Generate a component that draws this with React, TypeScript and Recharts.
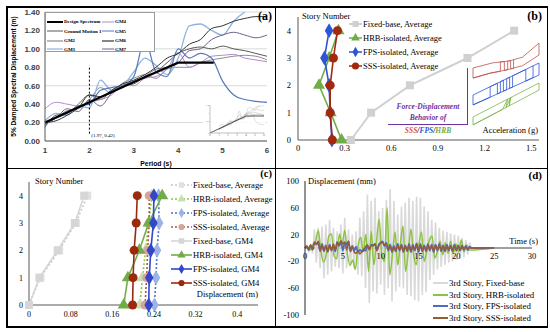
import React from 'react';
import {
  LineChart, Line, XAxis, YAxis, CartesianGrid, ReferenceLine, ReferenceDot,
  ScatterChart, Scatter, ZAxis, Symbols,
} from 'recharts';

const SANS = 'Liberation Sans, Arial, sans-serif';
const SERIF = 'Liberation Serif, Times New Roman, serif';

// ---------- (a) 5% damped spectral displacement ----------
const periods = [1, 1.25, 1.5, 1.75, 2, 2.25, 2.5, 2.75, 3, 3.25, 3.5, 3.75, 4, 4.25, 4.5, 4.75, 5, 5.25, 5.5, 5.75, 6];
const designPeriods = [1, 2, 3, 4, 4.8];
const designSd = [0.2, 0.42, 0.64, 0.85, 0.85];
const gm1 = [0.15, 0.28, 0.30, 0.40, 0.50, 0.45, 0.55, 0.60, 0.62, 0.70, 0.75, 0.85, 0.95, 1.00, 1.02, 1.00, 1.03, 1.00, 0.98, 0.95, 0.92];
const gm2 = [0.20, 0.25, 0.33, 0.35, 0.45, 0.58, 0.52, 0.63, 0.68, 0.72, 0.68, 0.78, 0.80, 0.80, 0.85, 0.88, 0.90, 0.92, 0.93, 0.92, 0.88];
const gm3 = [0.22, 0.30, 0.28, 0.38, 0.36, 0.66, 0.55, 0.60, 0.75, 0.90, 0.82, 0.72, 0.90, 1.25, 1.27, 1.20, 1.15, 1.30, 1.40, 1.46, 1.50];
const gm4 = [0.35, 0.42, 0.40, 0.38, 0.42, 0.45, 0.50, 0.62, 0.60, 0.68, 0.70, 0.78, 0.96, 0.80, 0.85, 0.92, 0.93, 0.94, 0.90, 0.88, 0.86];
const gm5 = [0.18, 0.25, 0.30, 0.38, 0.40, 0.55, 0.58, 0.60, 0.70, 1.10, 0.75, 0.70, 1.00, 0.90, 0.95, 0.90, 0.65, 0.50, 0.45, 0.43, 0.42];
const gm6 = [0.20, 0.22, 0.28, 0.36, 0.50, 0.48, 0.55, 0.62, 0.66, 0.72, 0.80, 0.90, 0.95, 1.05, 1.10, 1.22, 1.25, 1.30, 1.33, 1.35, 1.35];
const gm7 = [0.18, 0.25, 0.35, 0.32, 0.45, 0.38, 0.52, 0.60, 0.64, 0.70, 0.78, 0.80, 0.85, 0.98, 1.00, 1.10, 1.15, 1.18, 1.15, 1.12, 1.15];
const periodTicks = [1, 2, 3, 4, 5, 6];
const sdTicks = [0, 0.2, 0.4, 0.6, 0.8, 1, 1.2, 1.4];
const insetPeriods = [0, 4, 6];
const insetDesign = [0, 0.85, 0.85];
const insetTicks = [0, 1, 2, 3, 4, 5, 6];

// ---------- (b) story acceleration ----------
const stories = [0, 1, 2, 3, 4];
const storyTicks = [0, 1, 2, 3, 4];
const accTicks = [0, 0.3, 0.6, 0.9, 1.2, 1.5];
const fixedAcc = [0.34, 0.47, 0.72, 1.09, 1.39];
const hrbAcc = [0.28, 0.21, 0.135, 0.2, 0.26];
const fpsAcc = [0.218, 0.207, 0.2, 0.17, 0.2];
const sssAcc = [0.221, 0.207, 0.207, 0.228, 0.254];
// force-displacement loops (displacement, force), normalised
const sssLoop = [[-1, -0.95], [-0.5, -0.7], [0, -0.53], [0.5, -0.3], [1, 0.26], [1, 0.89], [0.5, 0.15], [0.1, -0.05], [-0.4, -0.15], [-1, -0.42], [-1, -0.95],
  [-0.5, -0.7], [-0.17, -0.59], [-0.17, -0.1], [-0.05, -0.08], [-0.05, -0.55], [0.05, -0.51], [0.05, -0.06], [0.14, -0.03], [0.14, -0.47], [0.23, -0.44], [0.23, 0.02]];
const fpsLoop = [[-1, -0.95], [1, 0.44], [1, 1.0], [-1, -0.49], [-1, -0.95], [-0.48, -0.59], [-0.48, -0.1], [-0.26, 0.06], [-0.26, -0.44], [-0.17, -0.37], [-0.17, 0.13],
  [-0.08, 0.2], [-0.08, -0.31], [0.02, -0.24], [0.02, 0.27], [0.11, 0.34], [0.11, -0.18], [0.2, -0.12], [0.2, 0.4], [0.6, 0.7], [0.6, 0.16], [0.82, 0.32], [0.82, 0.87]];
const hrbLoop = [[-1, -0.95], [1, 0.67], [1, 1.0], [-1, -0.58], [-1, -0.95], [-0.1, -0.22], [0.05, 0.25], [0, -0.14], [0.15, 0.33], [0.1, -0.06], [0.1, 0.29]];

// ---------- (c) story displacement ----------
const dispTicksC = [0, 0.08, 0.16, 0.24, 0.32, 0.4];
const fixedAvgDisp = [0, 0.022, 0.058, 0.09, 0.112];
const hrbAvgDisp = [0.213, 0.218, 0.224, 0.23, 0.236];
const fpsAvgDisp = [0.241, 0.244, 0.246, 0.25, 0.249];
const sssAvgDisp = [0.223, 0.226, 0.228, 0.231, 0.231];
const fixedGm4Disp = [0, 0.02, 0.055, 0.088, 0.106];
const hrbGm4Disp = [0.182, 0.19, 0.212, 0.23, 0.256];
const fpsGm4Disp = [0.23, 0.231, 0.234, 0.239, 0.24];
const sssGm4Disp = [0.199, 0.2, 0.202, 0.206, 0.208];

// ---------- (d) 3rd story displacement history (mm) ----------
const RECORD_END = 25;
const dtFine = 0.25;
const dtHrb = 0.35;
const timeTicks = [0, 5, 10, 15, 20, 25, 30];
const mmTicks = [-100, -80, -60, -40, -20, 0, 20, 40, 60, 80, 100];
const fixedHist = [
  0, 4, -5, 6, -8, 28, -22, 30, -30, 32, -45, 35, -40, 42, -35, 30, -28, 25, -30, 35, -38, 45, -30, 28,
  -25, 20, -30, 25, -40, 45, -42, 55, -60, 80, -82, 70, -65, 75, -68, 55, -55, 60, -70, 72, -60, 88, -80, 70,
  -65, 50, -58, 62, -60, 68, -70, 75, -72, 70, -78, 77, -80, 75, -70, 62, -66, 55, -48, 42, -40, 38, -32, 30,
  -28, 26, -25, 24, -22, 22, -20, 20, -18, 18, -16, 15, -14, 12, -10, 8, 0,
];
const hrbHist = [
  0, 2, -3, 5, 10, 26, -5, -21, -10, 18, 21, -12, -16, 21, 5, 26, -8, -26, -18, -32, 2, 16, -5, 20, -35, 25,
  -25, 10, 43, -10, -20, 60, -40, -10, 24, -25, 5, 33, -35, -5, 28, -10, -25, 5, 24, -20, -5, 12, 18, -15,
  -5, 10, -10, 8, -8, 10, -8, 6, -6, 12, -6, 5, -3,
];
const fpsHist = [
  0, 2, -3, 4, -2, 8, 5, 9, -4, 6, -5, 4, -6, 5, -3, 4, -5, 9, 3, 10, -4, 8, 6, 10, -5, 3, -4, 2, -6, -3, -5, -2,
  -4, 3, -2, 5, 4, 6, -3, 5, 8, 10, 3, 8, -4, 5, -6, 3, -5, 6, -4, 5, -6, 4, -5, 6, -6, 5, -4, 7, -6, 6, -5, 4,
  -5, 6, -4, 5, -6, 5, -4, 6, -5, 4, -5, 5, -4, 4, -5, 5, -4, 4, -4, 4, -3, 3, -3, 2, 0,
];
const sssHist = [
  0, 3, -2, 5, -3, 9, 6, 10, -5, 5, -4, 3, -5, 4, -4, 6, -3, 8, 4, 11, 6, 9, -3, 10, -4, 2, -6, -8, -5, -9, -6, -4,
  2, 5, -3, 4, 3, 6, -4, 3, 7, 9, 4, 6, -3, 4, -5, 2, -4, 5, -3, 4, -5, 3, -4, 5, -5, 4, -3, 6, -5, 4, -4, 3,
  -4, 5, -3, 4, -5, 4, -3, 5, -4, 3, -4, 4, -3, 3, -4, 4, -3, 3, -3, 3, -2, 2, -2, 1, 0,
];

type Pt = { x: number; y: number };
const zip = (xs: number[], ys: number[]): Pt[] => xs.map((x, i) => ({ x, y: ys[i] }));
const pairs = (arr: number[][]): Pt[] => arr.map(([x, y]) => ({ x, y }));
const sampled = (vals: number[], dt: number): Pt[] => [
  ...vals.map((v, i) => ({ x: Math.round(i * dt * 100) / 100, y: v })),
  { x: RECORD_END, y: 0 },
];

const T = ({ x, y, size, anchor = 'start', bold, italic, color = '#000', family = SERIF, children }: any) => (
  <div
    style={{
      position: 'absolute', left: x, top: y, fontSize: size, lineHeight: 1, fontFamily: family,
      fontWeight: bold ? 700 : 400, fontStyle: italic ? 'italic' : 'normal', color, whiteSpace: 'nowrap',
      transform: anchor === 'end' ? 'translateX(-100%)' : anchor === 'middle' ? 'translateX(-50%)' : undefined,
    }}
  >
    {children}
  </div>
);

const Rule = ({ x, y, w, h, color = '#000' }: any) => (
  <div style={{ position: 'absolute', left: x, top: y, width: w, height: h, background: color }} />
);

const LegendRow = ({ x, y, w, color, dash, shape, fill, label, size, lw = 1.5, ms = 36, family = SERIF, bold }: any) => (
  <div style={{ position: 'absolute', left: x, top: y - 6, height: 12, display: 'flex', alignItems: 'center', whiteSpace: 'nowrap' }}>
    <svg width={w} height={12} style={{ overflow: 'visible' }}>
      <line x1={0} y1={6} x2={w} y2={6} stroke={color} strokeWidth={lw} strokeDasharray={dash} />
      {shape && <Symbols cx={w / 2} cy={6} type={shape} size={ms} fill={fill} />}
    </svg>
    <span style={{ fontFamily: family, fontSize: size, marginLeft: 1, fontWeight: bold ? 700 : 400 }}>{label}</span>
  </div>
);

const gmSeries = [
  { name: 'GM1', data: gm1, color: '#595959', w: 1 },
  { name: 'GM2', data: gm2, color: '#8c8c8c', w: 1 },
  { name: 'GM3', data: gm3, color: '#8db3e2', w: 1.3 },
  { name: 'GM4', data: gm4, color: '#b38acb', w: 1 },
  { name: 'GM5', data: gm5, color: '#5579b8', w: 1.2 },
  { name: 'GM6', data: gm6, color: '#333333', w: 1 },
  { name: 'GM7', data: gm7, color: '#76608a', w: 1 },
];

const axisTickA = { fontSize: 8, fill: '#404040', fontFamily: SANS, fontWeight: 700 };
const axisTickS = { fontSize: 8.5, fill: '#000', fontFamily: SERIF };

function PanelA() {
  return (
    <>
      <div style={{ position: 'absolute', left: 0, top: 0 }}>
        <LineChart width={275} height={168} margin={{ top: 12, right: 8, bottom: 0, left: 15 }}>
          <CartesianGrid vertical={false} stroke="#d9d9d9" />
          <XAxis type="number" dataKey="x" domain={[1, 6]} ticks={periodTicks} height={27} axisLine={{ stroke: '#595959' }}
            tickLine={false} tickSize={0} tickMargin={6} tick={axisTickA}
            label={{ value: 'Period (s)', position: 'insideBottom', offset: 2, style: { fontSize: 6.8, fontWeight: 700, fontFamily: SANS, fill: '#000' } }} />
          <YAxis type="number" domain={[0, 1.4]} ticks={sdTicks} width={30} allowDataOverflow axisLine={{ stroke: '#595959' }}
            tickLine={false} tickSize={0} tickMargin={5} tick={axisTickA} tickFormatter={(v: number) => v.toFixed(2)}
            label={{ value: '5% Damped Spectral Displacement (m)', angle: -90, position: 'insideLeft', offset: -1,
              style: { textAnchor: 'middle', fontSize: 6.5, fontWeight: 700, fontFamily: SANS, fill: '#000' } }} />
          {gmSeries.map((s) => (
            <Line key={s.name} data={zip(periods, s.data)} dataKey="y" type="monotone" stroke={s.color} strokeWidth={s.w} dot={false} isAnimationActive={false} />
          ))}
          <Line data={zip(designPeriods, designSd)} dataKey="y" type="linear" stroke="#000" strokeWidth={2.2} dot={false} isAnimationActive={false} />
          <ReferenceLine segment={[{ x: 2, y: 0.08 }, { x: 2, y: 0.82 }]} stroke="#000" strokeDasharray="2 2" />
          <ReferenceDot x={2.02} y={0.06} r={0} fill="none" stroke="none"
            label={{ value: '(1.97, 0.42)', position: 'right', offset: 1, style: { fontSize: 5, fontFamily: SERIF, fill: '#000' } }} />
        </LineChart>
      </div>
      <div style={{ position: 'absolute', left: 203, top: 103, background: 'rgba(255,255,255,0.85)' }}>
        <LineChart width={63} height={36} margin={{ top: 2, right: 2, bottom: 0, left: 0 }}>
          <XAxis type="number" dataKey="x" domain={[0, 6]} ticks={insetTicks} height={6} axisLine={{ stroke: '#808080', strokeWidth: 0.5 }}
            tickLine={false} tickSize={0} tickMargin={1} tick={{ fontSize: 3, fill: '#666' }} />
          <YAxis type="number" domain={[0, 1.4]} ticks={sdTicks} width={7} axisLine={{ stroke: '#808080', strokeWidth: 0.5 }}
            tickLine={false} tickSize={0} tickMargin={1} tick={{ fontSize: 2.5, fill: '#666' }} allowDataOverflow />
          {gmSeries.map((s) => (
            <Line key={s.name} data={zip(periods, s.data)} dataKey="y" type="monotone" stroke="#b0b0b0" strokeWidth={0.4} dot={false} isAnimationActive={false} />
          ))}
          <Line data={zip(insetPeriods, insetDesign)} dataKey="y" type="linear" stroke="#333" strokeWidth={0.8} dot={false} isAnimationActive={false} />
        </LineChart>
      </div>
      <div style={{ position: 'absolute', left: 45, top: 12, width: 110, height: 40, border: '0.8px solid #9a9a9a', background: '#fff', boxSizing: 'border-box' }} />
      <LegendRow x={47} y={21.5} w={16} color="#000" lw={2} label="Design Spectrum" size={5} bold />
      <LegendRow x={47} y={31} w={16} color="#595959" lw={1} label="Ground Motion 1" size={5} bold />
      <LegendRow x={47} y={40.5} w={16} color="#8c8c8c" lw={1.2} label="GM2" size={5} bold />
      <LegendRow x={47} y={49} w={16} color="#8db3e2" lw={1.2} label="GM3" size={5} bold />
      <LegendRow x={102} y={21.5} w={12} color="#b38acb" lw={1} label="GM4" size={5} bold />
      <LegendRow x={102} y={31} w={12} color="#5579b8" lw={1} label="GM5" size={5} bold />
      <LegendRow x={102} y={40.5} w={12} color="#333333" lw={1.2} label="GM6" size={5} bold />
      <LegendRow x={102} y={49} w={12} color="#76608a" lw={1} label="GM7" size={5} bold />
      <T x={272} y={10} size={12} bold anchor="end">(a)</T>
    </>
  );
}

const FIXED = '#d0d0d0';
const HRB = '#70ad47';
const FPS = '#2f55d4';
const SSS = '#a3280d';

function PanelB() {
  return (
    <>
      <div style={{ position: 'absolute', left: 275, top: 0 }}>
        <ScatterChart width={275} height={168} margin={{ top: 17, right: 11, bottom: 0, left: 5 }}>
          <XAxis type="number" dataKey="x" domain={[0, 1.55]} ticks={accTicks} height={28} axisLine={{ stroke: '#595959' }}
            tickLine={false} tickSize={0} tickMargin={5} tick={axisTickS} />
          <YAxis type="number" dataKey="y" domain={[0, 4.5]} ticks={storyTicks} width={18} axisLine={{ stroke: '#595959' }}
            tickLine={false} tickSize={0} tickMargin={7} tick={axisTickS} />
          <ZAxis range={[44, 44]} />
          <Scatter data={zip(fixedAcc, stories)} fill={FIXED} shape="square" line={{ stroke: FIXED, strokeWidth: 2 }} isAnimationActive={false} />
          <Scatter data={zip(hrbAcc, stories)} fill={HRB} shape="triangle" line={{ stroke: HRB, strokeWidth: 1.6 }} isAnimationActive={false} />
          <Scatter data={zip(fpsAcc, stories)} fill={FPS} shape="diamond" line={{ stroke: FPS, strokeWidth: 1.6 }} isAnimationActive={false} />
          <Scatter data={zip(sssAcc, stories)} fill={SSS} shape="circle" line={{ stroke: SSS, strokeWidth: 1.6 }} isAnimationActive={false} />
        </ScatterChart>
      </div>
      {[
        { loop: sssLoop, color: '#c0504d', top: 40, h: 40 },
        { loop: fpsLoop, color: '#2f55d4', top: 62, h: 45 },
        { loop: hrbLoop, color: '#7ab648', top: 82, h: 45 },
      ].map((l) => (
        <div key={l.color} style={{ position: 'absolute', left: 472, top: l.top }}>
          <LineChart width={68} height={l.h} margin={{ top: 1, right: 1, bottom: 1, left: 1 }}>
            <XAxis type="number" dataKey="x" domain={[-1, 1]} hide />
            <YAxis type="number" domain={[-1, 1]} hide />
            <Line data={pairs(l.loop)} dataKey="y" type="linear" stroke={l.color} strokeWidth={0.8} dot={false} isAnimationActive={false} />
          </LineChart>
        </div>
      ))}
      <Rule x={466.5} y={68} w={1.5} h={57} color="#7030a0" />
      <Rule x={388} y={123.5} w={80} h={1.5} color="#7030a0" />
      <T x={428} y={103} size={7.5} bold italic color="#7030a0" anchor="middle">Force-Displacement</T>
      <T x={428} y={114} size={7.5} bold italic color="#7030a0" anchor="middle">Behavior of</T>
      <T x={428} y={127} size={7.5} bold italic anchor="middle">
        <span style={{ color: '#e0502a' }}>SSS</span>/<span style={{ color: '#2f55d4' }}>FPS</span>/<span style={{ color: '#70ad47' }}>HRB</span>
      </T>
      <T x={538} y={126} size={8.5} anchor="end">Acceleration (g)</T>
      <T x={302} y={12} size={8.5}>Story Number</T>
      <LegendRow x={349} y={24} w={13} color={FIXED} lw={2} shape="square" fill={FIXED} ms={36} label="Fixed-base, Average" size={8.5} />
      <LegendRow x={349} y={38} w={13} color={HRB} shape="triangle" fill={HRB} ms={32} label="HRB-isolated, Average" size={8.5} />
      <LegendRow x={349} y={52} w={13} color={FPS} shape="diamond" fill={FPS} ms={32} label="FPS-isolated, Average" size={8.5} />
      <LegendRow x={349} y={66} w={13} color={SSS} shape="circle" fill={SSS} ms={40} label="SSS-isolated, Average" size={8.5} />
      <T x={542} y={10} size={12} bold anchor="end">(b)</T>
    </>
  );
}

const cSeries = [
  { name: 'Fixed-base, Average', data: fixedAvgDisp, color: '#c8c8c8', fill: '#e0e0e0', shape: 'square', dash: '2 2' },
  { name: 'HRB-isolated, Average', data: hrbAvgDisp, color: '#8cc63f', fill: '#c5e0b4', shape: 'triangle', dash: '2 2' },
  { name: 'FPS-isolated, Average', data: fpsAvgDisp, color: '#4a6fd0', fill: '#9db3e6', shape: 'diamond', dash: '2 2' },
  { name: 'SSS-isolated, Average', data: sssAvgDisp, color: '#a85b45', fill: '#d6a597', shape: 'circle', dash: '2 2' },
  { name: 'Fixed-base, GM4', data: fixedGm4Disp, color: '#d6d6d6', fill: '#d6d6d6', shape: 'square' },
  { name: 'HRB-isolated, GM4', data: hrbGm4Disp, color: '#70ad47', fill: '#70ad47', shape: 'triangle' },
  { name: 'FPS-isolated, GM4', data: fpsGm4Disp, color: '#3347c9', fill: '#3347c9', shape: 'diamond' },
  { name: 'SSS-isolated, GM4', data: sssGm4Disp, color: '#9b2a0c', fill: '#9b2a0c', shape: 'circle' },
];

function PanelC() {
  return (
    <>
      <div style={{ position: 'absolute', left: 0, top: 168 }}>
        <ScatterChart width={275} height={164} margin={{ top: 14, right: 17, bottom: 0, left: 10 }}>
          <XAxis type="number" dataKey="x" domain={[0, 0.44]} ticks={dispTicksC} height={27} axisLine={{ stroke: '#595959' }}
            tickLine={false} tickSize={0} tickMargin={6} tick={{ ...axisTickS, fontSize: 8 }} />
          <YAxis type="number" dataKey="y" domain={[0, 4.5]} ticks={storyTicks} width={19} axisLine={{ stroke: '#595959' }}
            tickLine={false} tickSize={0} tickMargin={6} tick={{ ...axisTickS, fontSize: 8 }} />
          <ZAxis range={[40, 40]} />
          {cSeries.map((s) => (
            <Scatter key={s.name} data={zip(s.data, stories)} fill={s.fill} shape={s.shape as any}
              line={{ stroke: s.color, strokeWidth: 1.6, strokeDasharray: s.dash }} isAnimationActive={false} />
          ))}
        </ScatterChart>
      </div>
      <T x={35} y={177} size={8.5}>Story Number</T>
      <T x={258} y={290} size={8.5} anchor="end">Displacement (m)</T>
      {cSeries.map((s, i) => (
        <LegendRow key={s.name} x={171} y={184.5 + i * 14.1} w={21} color={s.color} dash={s.dash} lw={1.6} shape={s.shape} fill={s.fill} ms={30} label={s.name} size={8.6} />
      ))}
      <T x={272} y={169} size={10.5} bold anchor="end">(c)</T>
    </>
  );
}

const dSeries = [
  { name: '3rd Story, Fixed-base', data: sampled(fixedHist, dtFine), color: '#d9d9d9', w: 1.6, type: 'linear' },
  { name: '3rd Story, HRB-isolated', data: sampled(hrbHist, dtHrb), color: '#8cc43f', w: 1.5, type: 'monotone' },
  { name: '3rd Story, FPS-isolated', data: sampled(fpsHist, dtFine), color: '#4b6cc9', w: 1.8, type: 'monotone' },
  { name: '3rd Story, SSS-isolated', data: sampled(sssHist, dtFine), color: '#9a5b34', w: 1.5, type: 'monotone' },
];

function PanelD() {
  return (
    <>
      <div style={{ position: 'absolute', left: 275, top: 168 }}>
        <LineChart width={275} height={164} margin={{ top: 13, right: 18, bottom: 17, left: 2 }}>
          <XAxis type="number" dataKey="x" domain={[0, 30]} hide />
          <YAxis type="number" domain={[-100, 100]} ticks={mmTicks} width={28} axisLine={{ stroke: '#262626' }}
            tickLine={false} tickSize={0} tickMargin={6} tick={axisTickS} />
          <ReferenceLine y={0} stroke="#404040" />
          {dSeries.map((s) => (
            <Line key={s.name} data={s.data} dataKey="y" type={s.type as any} stroke={s.color} strokeWidth={s.w} dot={false} isAnimationActive={false} />
          ))}
          {timeTicks.map((t) => (
            <ReferenceDot key={t} x={t} y={0} r={0} fill="none" stroke="none"
              label={{ value: String(t), position: 'bottom', offset: 5, style: { fontSize: 8.5, fontFamily: SERIF, fill: '#000' } }} />
          ))}
        </LineChart>
      </div>
      <T x={308} y={177} size={8.5}>Displacement (mm)</T>
      <T x={538} y={237} size={8.5} anchor="end">Time (s)</T>
      {dSeries.map((s, i) => (
        <LegendRow key={s.name} x={433} y={283 + i * 11.7} w={15} color={s.color} lw={2} label={s.name} size={8.8} />
      ))}
      <T x={542} y={170} size={11} bold anchor="end">(d)</T>
    </>
  );
}

export default function App() {
  return (
    <div style={{ position: 'absolute', left: 0, top: 0, width: 550, height: 332, background: '#fff', overflow: 'hidden' }}>
      <PanelA />
      <PanelB />
      <PanelC />
      <PanelD />
      <Rule x={6} y={6} w={542} h={1.5} />
      <Rule x={6} y={326} w={542} h={1.5} />
      <Rule x={6} y={6} w={1.5} h={321.5} />
      <Rule x={546.5} y={6} w={1.5} h={321.5} />
      <Rule x={274.5} y={6} w={1.5} h={321.5} />
      <Rule x={6} y={167.5} w={542} h={1.5} />
    </div>
  );
}
